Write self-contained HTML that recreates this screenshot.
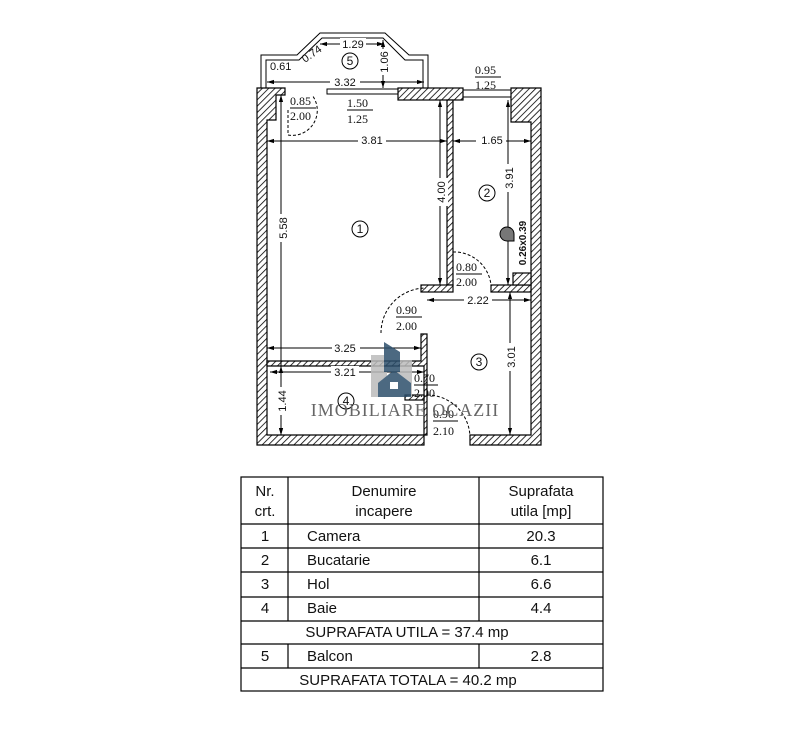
<!DOCTYPE html>
<html><head><meta charset="utf-8"><style>
html,body{margin:0;padding:0;background:#fff;}
svg{display:block;}
text{font-family:"Liberation Sans",sans-serif;fill:#111;}
.s{font-family:"Liberation Serif",serif;}
</style></head><body>
<svg width="787" height="756" viewBox="0 0 787 756" xmlns="http://www.w3.org/2000/svg">
<defs>
<pattern id="h" width="4.5" height="4.5" patternUnits="userSpaceOnUse" patternTransform="rotate(45)">
<rect width="5" height="5" fill="#fff"/><line x1="0" y1="0" x2="0" y2="5" stroke="#000" stroke-width="1.6"/>
</pattern>
<marker id="a" viewBox="0 0 10 10" refX="10" refY="5" markerWidth="7" markerHeight="7" orient="auto-start-reverse"><path d="M0,2 L10,5 L0,8z" fill="#000"/></marker>
</defs>
<g stroke="#000" stroke-width="1.2" fill="url(#h)">
<path d="M257,88 H285 V95 H276 V120 H267 V435 H424 V445 H257 Z"/>
<rect x="398" y="88" width="65" height="12"/>
<rect x="447" y="100" width="6" height="185"/>
<path d="M511,88 H541 V445 H470 V435 H531 V122 H511 Z"/>
<rect x="421" y="285" width="32" height="7"/>
<rect x="491" y="285" width="40" height="7"/>
<rect x="513" y="273" width="18" height="12"/>
<path d="M267,361 H421 V334 H427 V435 H424 V366 H267 Z"/>
<rect x="405" y="395" width="19" height="5" />
</g>
<g stroke="#000" fill="none" stroke-width="1">
<rect x="327" y="89" width="71" height="5"/>
<rect x="463" y="90" width="48" height="7"/>
<path d="M261,88 V55 H297 L320,33 H385 L409,55 H428 V88"/>
<path d="M266,88 V60 H299 L322,38 H383 L405,60 H423 V88"/>
<path d="M288,110 V135 A25,25 0 0 0 312,95" stroke-dasharray="3,2"/>
<path d="M453,252 A37,37 0 0 1 491,285" stroke-dasharray="3,2"/>
<path d="M381,333 A45,45 0 0 1 426,288" stroke-dasharray="3,2"/>
<path d="M427,395 A43,43 0 0 1 470,438" stroke-dasharray="3,2"/>
</g>
<g stroke="#000" stroke-width="1" marker-start="url(#a)" marker-end="url(#a)">
<line x1="267" y1="141" x2="447" y2="141"/>
<line x1="453" y1="141" x2="531" y2="141"/>
<line x1="267" y1="82" x2="424" y2="82"/>
<line x1="320" y1="44" x2="384" y2="44"/>
<line x1="440" y1="100" x2="440" y2="285"/>
<line x1="281" y1="95" x2="281" y2="435"/>
<line x1="508" y1="100" x2="508" y2="285"/>
<line x1="427" y1="300" x2="531" y2="300"/>
<line x1="510" y1="292" x2="510" y2="435"/>
<line x1="267" y1="348" x2="421" y2="348"/>
<line x1="270" y1="372" x2="424" y2="372"/>
<line x1="281" y1="366" x2="281" y2="435"/>
<line x1="383" y1="40" x2="383" y2="88"/>
</g>
<g font-size="11">
<rect x="358" y="134" width="28" height="12" fill="#fff"/><text x="372" y="144" text-anchor="middle">3.81</text>
<rect x="476" y="134" width="30" height="12" fill="#fff"/><text x="492" y="144" text-anchor="middle">1.65</text>
<rect x="330" y="76" width="30" height="12" fill="#fff"/><text x="345" y="86" text-anchor="middle">3.32</text>
<rect x="340" y="38" width="26" height="12" fill="#fff"/><text x="353" y="48" text-anchor="middle">1.29</text>
<rect x="332" y="341" width="28" height="12" fill="#fff"/><text x="345" y="352" text-anchor="middle">3.25</text>
<rect x="331" y="366" width="28" height="12" fill="#fff"/><text x="345" y="376" text-anchor="middle">3.21</text>
<rect x="464" y="294" width="28" height="12" fill="#fff"/><text x="478" y="304" text-anchor="middle">2.22</text>
<text x="270" y="70">0.61</text>
<text x="305" y="63" transform="rotate(-35 305 63)">0.74</text>
<g transform="translate(287,228) rotate(-90)"><rect x="-14" y="-9" width="28" height="12" fill="#fff"/><text text-anchor="middle">5.58</text></g>
<g transform="translate(445,192) rotate(-90)"><rect x="-14" y="-9" width="28" height="12" fill="#fff"/><text text-anchor="middle">4.00</text></g>
<g transform="translate(513,178) rotate(-90)"><rect x="-14" y="-9" width="28" height="12" fill="#fff"/><text text-anchor="middle">3.91</text></g>
<g transform="translate(515,357) rotate(-90)"><rect x="-14" y="-9" width="28" height="12" fill="#fff"/><text text-anchor="middle">3.01</text></g>
<g transform="translate(286,401) rotate(-90)"><rect x="-14" y="-9" width="28" height="12" fill="#fff"/><text text-anchor="middle">1.44</text></g>
<g transform="translate(388,62) rotate(-90)"><rect x="-13" y="-9" width="26" height="12" fill="#fff"/><text text-anchor="middle">1.06</text></g>
<g transform="translate(526,243) rotate(-90)"><text text-anchor="middle" font-size="10" font-weight="bold">0.26x0.39</text></g>
</g>
<g class="s" font-size="12">
<text class="s" x="290" y="105">0.85</text><line x1="290" y1="108" x2="316" y2="108" stroke="#000"/><text class="s" x="290" y="120">2.00</text>
<text class="s" x="347" y="107">1.50</text><line x1="347" y1="110" x2="373" y2="110" stroke="#000"/><text class="s" x="347" y="123">1.25</text>
<text class="s" x="475" y="74">0.95</text><line x1="475" y1="77" x2="501" y2="77" stroke="#000"/><text class="s" x="475" y="89">1.25</text>
<text class="s" x="456" y="271">0.80</text><line x1="456" y1="274" x2="482" y2="274" stroke="#000"/><text class="s" x="456" y="286">2.00</text>
<text class="s" x="396" y="314">0.90</text><line x1="396" y1="317" x2="422" y2="317" stroke="#000"/><text class="s" x="396" y="330">2.00</text>
<text class="s" x="414" y="382">0.70</text><line x1="414" y1="385" x2="438" y2="385" stroke="#000"/><text class="s" x="414" y="397">2.00</text>
<text class="s" x="433" y="418">0.90</text><line x1="433" y1="421" x2="458" y2="421" stroke="#000"/><text class="s" x="433" y="435">2.10</text>
</g>
<g fill="none" stroke="#000">
<circle cx="360" cy="229" r="8"/><circle cx="487" cy="193" r="8"/><circle cx="479" cy="362" r="8"/><circle cx="346" cy="401" r="8"/><circle cx="350" cy="61" r="8"/>
</g>
<g font-size="12" text-anchor="middle">
<text x="360" y="233">1</text><text x="487" y="197">2</text><text x="479" y="366">3</text><text x="346" y="405">4</text><text x="350" y="65">5</text>
</g>
<path d="M507,241 A7,7 0 1 1 514,234 V241 Z" fill="#777" stroke="#000"/>
<g opacity="0.85">
<rect x="371" y="355" width="16" height="42" fill="#bbb"/><rect x="396" y="360" width="16" height="37" fill="#bbb"/>
<path d="M384,342 L400,352 V372 H384 Z" fill="#2d4f6c"/>
<path d="M378,383 L394,370 L411,383 V397 H378 Z" fill="#2d4f6c"/>
<rect x="390" y="382" width="8" height="7" fill="#fff"/>
</g>
<text class="s" x="405" y="416" font-size="18" text-anchor="middle" style="fill:#666;letter-spacing:1px">IMOBILIARE OCAZII</text>
<g stroke="#000" stroke-width="1.2" fill="none">
<rect x="241" y="477" width="362" height="214"/>
<line x1="241" y1="524" x2="603" y2="524"/><line x1="241" y1="548" x2="603" y2="548"/>
<line x1="241" y1="572" x2="603" y2="572"/><line x1="241" y1="597" x2="603" y2="597"/>
<line x1="241" y1="621" x2="603" y2="621"/><line x1="241" y1="644" x2="603" y2="644"/>
<line x1="241" y1="668" x2="603" y2="668"/>
<line x1="288" y1="477" x2="288" y2="621"/><line x1="479" y1="477" x2="479" y2="621"/>
<line x1="288" y1="644" x2="288" y2="668"/><line x1="479" y1="644" x2="479" y2="668"/>
</g>
<g font-size="15">
<text x="265" y="496" text-anchor="middle">Nr.</text><text x="265" y="516" text-anchor="middle">crt.</text>
<text x="384" y="496" text-anchor="middle">Denumire</text><text x="384" y="516" text-anchor="middle">incapere</text>
<text x="541" y="496" text-anchor="middle">Suprafata</text><text x="541" y="516" text-anchor="middle">utila [mp]</text>
<text x="265" y="541" text-anchor="middle">1</text><text x="307" y="541">Camera</text><text x="541" y="541" text-anchor="middle">20.3</text>
<text x="265" y="565" text-anchor="middle">2</text><text x="307" y="565">Bucatarie</text><text x="541" y="565" text-anchor="middle">6.1</text>
<text x="265" y="589" text-anchor="middle">3</text><text x="307" y="589">Hol</text><text x="541" y="589" text-anchor="middle">6.6</text>
<text x="265" y="613" text-anchor="middle">4</text><text x="307" y="613">Baie</text><text x="541" y="613" text-anchor="middle">4.4</text>
<text x="407" y="637" text-anchor="middle">SUPRAFATA UTILA = 37.4 mp</text>
<text x="265" y="661" text-anchor="middle">5</text><text x="307" y="661">Balcon</text><text x="541" y="661" text-anchor="middle">2.8</text>
<text x="408" y="685" text-anchor="middle">SUPRAFATA TOTALA = 40.2 mp</text>
</g>
</svg>
</body></html>
